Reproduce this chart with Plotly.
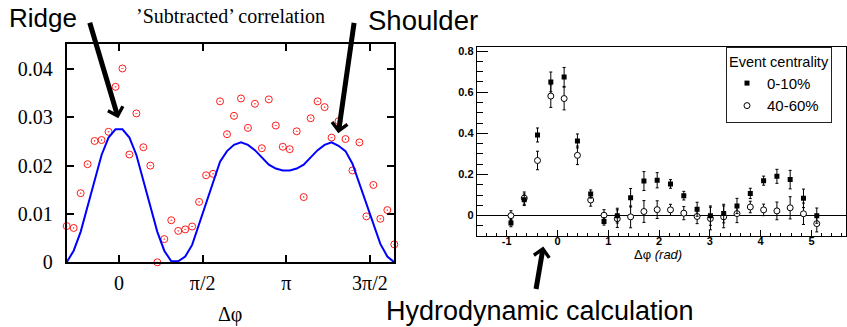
import plotly.graph_objects as go

# ---------------- data: left panel ('Subtracted' correlation) ----------------
phi_left = [-0.982, -0.851, -0.720, -0.589, -0.458, -0.327, -0.196, -0.065,
            0.065, 0.196, 0.327, 0.458, 0.589, 0.720, 0.851, 0.982,
            1.113, 1.244, 1.374, 1.505, 1.636, 1.767, 1.898, 2.029,
            2.160, 2.291, 2.422, 2.553, 2.683, 2.814, 2.945, 3.076,
            3.207, 3.338, 3.469, 3.600, 3.731, 3.862, 3.993, 4.123,
            4.254, 4.385, 4.516, 4.647, 4.778, 4.909, 5.040, 5.171]
corr_data = [0.0075, 0.0071, 0.0143, 0.0203, 0.0251, 0.0253, 0.0270, 0.0363,
             0.0401, 0.0223, 0.0308, 0.0238, 0.0200, 0.0000, 0.0048, 0.0087,
             0.0065, 0.0068, 0.0074, 0.0125, 0.0180, 0.0183, 0.0333, 0.0265,
             0.0303, 0.0339, 0.0278, 0.0328, 0.0236, 0.0337, 0.0283, 0.0239,
             0.0234, 0.0271, 0.0135, 0.0298, 0.0333, 0.0321, 0.0258, 0.0292,
             0.0255, 0.0190, 0.0248, 0.0095, 0.0160, 0.0090, 0.0108, 0.0037]
hydro_curve = [0.0000, 0.0024, 0.0063, 0.0115, 0.0170, 0.0222, 0.0258, 0.0275,
               0.0275, 0.0258, 0.0222, 0.0170, 0.0115, 0.0063, 0.0024, 0.0002,
               0.0002, 0.0012, 0.0036, 0.0080, 0.0124, 0.0166, 0.0208, 0.0230,
               0.0243, 0.0248, 0.0243, 0.0232, 0.0216, 0.0202, 0.0194, 0.0190,
               0.0190, 0.0194, 0.0202, 0.0216, 0.0232, 0.0243, 0.0248, 0.0241,
               0.0230, 0.0204, 0.0162, 0.0118, 0.0076, 0.0038, 0.0012, 0.0000]
left_tickvals = [0, 1.5708, 3.1416, 4.7124]
left_ticktext = ["0", "π/2", "π", "3π/2"]

# ---------------- data: right panel (event centrality) ----------------
phi_right = [-0.916, -0.654, -0.393, -0.131, 0.131, 0.393, 0.654, 0.916,
             1.178, 1.440, 1.702, 1.963, 2.225, 2.487, 2.749, 3.011,
             3.272, 3.534, 3.796, 4.058, 4.320, 4.581, 4.843, 5.105]
central_y = [-0.036, 0.077, 0.392, 0.650, 0.674, 0.363, 0.105, -0.028,
             0.000, 0.087, 0.168, 0.172, 0.154, 0.097, 0.031, 0.000,
             0.010, 0.047, 0.108, 0.170, 0.191, 0.175, 0.084, 0.000]
central_err = [0.018, 0.028, 0.034, 0.048, 0.046, 0.034, 0.020, 0.018,
               0.036, 0.045, 0.046, 0.037, 0.021, 0.021, 0.034, 0.047,
               0.045, 0.037, 0.025, 0.022, 0.034, 0.045, 0.045, 0.037]
periph_y = [0.000, 0.085, 0.268, 0.581, 0.569, 0.293, 0.076, 0.002,
            -0.015, -0.006, 0.020, 0.029, 0.028, 0.012, -0.004, -0.014,
            -0.006, 0.010, 0.042, 0.028, 0.023, 0.038, 0.009, -0.039]
periph_err = [0.024, 0.030, 0.045, 0.055, 0.055, 0.045, 0.030, 0.027,
              0.043, 0.053, 0.053, 0.043, 0.027, 0.032, 0.035, 0.055,
              0.053, 0.044, 0.028, 0.028, 0.043, 0.054, 0.052, 0.040]
right_tickvals = [-1, 0, 1, 2, 3, 4, 5]
right_ticktext = ["-1", "0", "1", "2", "3", "4", "5"]

W, H = 847, 327
def px(x):
    return x / W
def py(y):
    return 1 - y / H

SERIF = "Liberation Serif"
SANS = "Liberation Sans"

fig = go.Figure()

fig.add_trace(go.Scatter(
    x=phi_left, y=corr_data, mode="markers", xaxis="x", yaxis="y",
    marker=dict(symbol="circle-open-dot", size=7, color="#ff1a1a",
                line=dict(width=1, color="#ff1a1a")),
    cliponaxis=False, showlegend=False))
fig.add_trace(go.Scatter(
    x=phi_left, y=hydro_curve, mode="lines", xaxis="x", yaxis="y",
    line=dict(color="#0000ff", width=2), showlegend=False))

fig.add_trace(go.Scatter(
    x=phi_right, y=periph_y, mode="markers", xaxis="x2", yaxis="y2",
    name="40-60%", legendrank=2,
    marker=dict(symbol="circle", size=6, color="white",
                line=dict(width=1, color="black")),
    error_y=dict(type="data", array=periph_err, color="black",
                 thickness=1, width=1.5)))
fig.add_trace(go.Scatter(
    x=phi_right, y=central_y, mode="markers", xaxis="x2", yaxis="y2",
    name="0-10%", legendrank=1,
    marker=dict(symbol="square", size=5, color="black"),
    error_y=dict(type="data", array=central_err, color="black",
                 thickness=1, width=1.5)))

left_axis = dict(showline=True, linecolor="black", linewidth=2, mirror="ticks",
                 ticks="inside", ticklen=7, tickwidth=1.5, tickcolor="black",
                 showgrid=False, zeroline=False, automargin=False,
                 tickfont=dict(family=SERIF, size=20, color="black"))
right_axis = dict(showline=True, linecolor="black", linewidth=1, mirror=True,
                  ticks="inside", tickwidth=1, tickcolor="black",
                  showgrid=False, automargin=False,
                  tickfont=dict(family=SANS, size=11, color="black", weight="bold"))

fig.update_layout(
    width=W, height=H, autosize=False,
    margin=dict(l=0, r=0, t=0, b=0, autoexpand=False),
    paper_bgcolor="white", plot_bgcolor="white",
    xaxis=dict(left_axis, domain=[px(66.7), px(394.3)], range=[-0.982, 5.171],
               tickmode="array", tickvals=left_tickvals, ticktext=left_ticktext,
               anchor="y", ticklabelstandoff=2),
    yaxis=dict(left_axis, domain=[py(262.3), py(44.3)], range=[0, 0.0451],
               tick0=0, dtick=0.01, anchor="x", ticklabelstandoff=8),
    xaxis2=dict(right_axis, domain=[px(476.7), px(846)], range=[-1.59, 5.68],
                tickmode="array", tickvals=right_tickvals, ticktext=right_ticktext,
                ticklen=6, zeroline=False, anchor="y2", ticklabelstandoff=-5,
                minor=dict(ticks="inside", ticklen=3, dtick=0.2, tick0=0,
                           tickcolor="black", showgrid=False)),
    yaxis2=dict(right_axis, domain=[py(236), py(46.7)], range=[-0.099, 0.821],
                tick0=0, dtick=0.2, ticklen=11, anchor="x2",
                zeroline=True, zerolinecolor="black", zerolinewidth=1,
                minor=dict(ticks="inside", ticklen=6, dtick=0.05, tick0=0,
                           tickcolor="black", showgrid=False)),
    legend=dict(x=px(726), y=py(47), xanchor="left", yanchor="top",
                bgcolor="white", bordercolor="#222222", borderwidth=1,
                font=dict(family=SANS, size=15, color="black"),
                title=dict(text="Event centrality",
                           font=dict(family=SANS, size=14.5, color="black")),
                itemwidth=30, tracegroupgap=0),
    showlegend=True,
)

annotations = [
    dict(x=px(230), y=py(16), text="’Subtracted’ correlation",
         font=dict(family=SERIF, size=20, color="black")),
    dict(x=px(230), y=py(314), text="Δφ",
         font=dict(family=SERIF, size=20, color="black")),
    dict(x=px(657.7), y=py(254), text="Δφ <i>(rad)</i>",
         font=dict(family=SANS, size=13, color="black")),
    dict(x=px(7), y=py(18), text="Ridge", xanchor="left",
         font=dict(family=SANS, size=26, color="black")),
    dict(x=px(365.5), y=py(20.5), text="Shoulder", xanchor="left",
         font=dict(family=SANS, size=27.5, color="black")),
    dict(x=px(384), y=py(311), text="Hydrodynamic calculation", xanchor="left",
         font=dict(family=SANS, size=27, color="black")),
]
for a in annotations:
    a.update(xref="paper", yref="paper", showarrow=False, yanchor="middle")
    a.setdefault("xanchor", "center")

arrows = [
    dict(x=px(118.3), y=py(118.3), ax=-29, ay=-97),
    dict(x=px(338.3), y=py(133.3), ax=16, ay=-112),
    dict(x=px(543.3), y=py(246.5), ax=-7.5, ay=44),
]
for a in arrows:
    a.update(xref="paper", yref="paper", text="", showarrow=True,
             arrowhead=4, arrowsize=0.6, arrowwidth=5, arrowcolor="black",
             standoff=0)

fig.update_layout(annotations=annotations + arrows)

fig.write_html("out.html")
